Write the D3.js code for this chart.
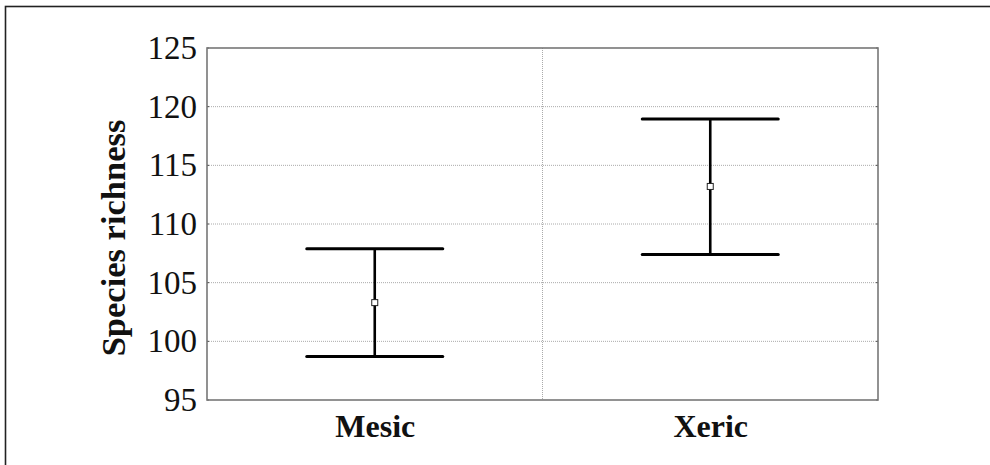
<!DOCTYPE html>
<html>
<head>
<meta charset="utf-8">
<script src="https://cdn.jsdelivr.net/npm/d3@7"></script>
<style>
  html, body { margin: 0; padding: 0; background: #fff; }
  svg { display: block; }
  text { font-family: 'Liberation Serif', 'Times New Roman', serif; fill: #111; }
</style>
</head>
<body>
<div id="chart"></div>
<script>
const categories = ['Mesic', 'Xeric']
const means      = [103.3, 113.2]
const upper      = [107.9, 118.95]
const lower      = [98.7, 107.4]
const yTicks     = [95, 100, 105, 110, 115, 120, 125]
const yLabel     = 'Species richness'

const WIDTH = 990, HEIGHT = 465
const MARGIN = { top: 48, right: 112, bottom: 65, left: 207 }
const W = WIDTH - MARGIN.left - MARGIN.right
const H = HEIGHT - MARGIN.top - MARGIN.bottom

const svg = d3.select('#chart').append('svg')
  .attr('width', WIDTH)
  .attr('height', HEIGHT)

// outer frame (right/bottom edges fall outside the picture)
svg.append('rect')
  .attr('x', 5.5).attr('y', 6.5)
  .attr('width', WIDTH + 20).attr('height', HEIGHT + 20)
  .attr('fill', 'none')
  .attr('stroke', '#222')
  .attr('stroke-width', 1.6)

const g = svg.append('g').attr('transform', `translate(${MARGIN.left},${MARGIN.top})`)

const x = d3.scalePoint().domain(categories).range([0, W]).padding(0.5)
const y = d3.scaleLinear().domain([95, 125]).range([H, 0])

// ── grid ─────────────────────────────────────────────────────
g.append('g').attr('class', 'grid')
  .selectAll('line').data(yTicks.slice(1, -1))
  .join('line')
  .attr('x1', 0).attr('x2', W)
  .attr('y1', d => y(d)).attr('y2', d => y(d))
  .attr('stroke', '#aaa')
  .attr('stroke-width', 1)
  .attr('stroke-dasharray', '1 1')

g.append('line')
  .attr('x1', W / 2).attr('x2', W / 2)
  .attr('y1', 0).attr('y2', H)
  .attr('stroke', '#aaa')
  .attr('stroke-width', 1)
  .attr('stroke-dasharray', '1 1')

// ── y axis ───────────────────────────────────────────────────
const yAxis = g.append('g')
  .call(d3.axisLeft(y).tickValues(yTicks).tickSize(0).tickPadding(10))
yAxis.select('.domain').remove()
yAxis.selectAll('text')
  .style('font-size', '33px')
  .style('font-family', "'Liberation Serif', 'Times New Roman', serif")
  .attr('fill', '#111')

// small inner ticks on both sides
g.append('g').selectAll('line').data(yTicks)
  .join('line')
  .attr('x1', 0).attr('x2', 2)
  .attr('y1', d => y(d)).attr('y2', d => y(d))
  .attr('stroke', '#444')
g.append('g').selectAll('line').data(yTicks)
  .join('line')
  .attr('x1', W - 2).attr('x2', W)
  .attr('y1', d => y(d)).attr('y2', d => y(d))
  .attr('stroke', '#444')

// ── x axis labels ────────────────────────────────────────────
const xAxis = g.append('g')
  .attr('transform', `translate(0,${H})`)
  .call(d3.axisBottom(x).tickSize(0).tickPadding(14))
xAxis.select('.domain').remove()
xAxis.selectAll('text')
  .style('font-size', '32px')
  .style('font-weight', 'bold')
  .style('font-family', "'Liberation Serif', 'Times New Roman', serif")
  .attr('fill', '#111')

// ── y label ──────────────────────────────────────────────────
svg.append('text')
  .attr('transform', `translate(125,${MARGIN.top + H / 2 + 14}) rotate(-90)`)
  .attr('text-anchor', 'middle')
  .style('font-size', '34.5px')
  .style('font-weight', 'bold')
  .text(yLabel)

// ── plot frame ───────────────────────────────────────────────
g.append('rect')
  .attr('x', 0).attr('y', 0)
  .attr('width', W).attr('height', H)
  .attr('fill', 'none')
  .attr('stroke', '#777')
  .attr('stroke-width', 1.6)

// ── error bars ───────────────────────────────────────────────
const capHalf = 68
const bars = g.append('g').selectAll('g').data(categories)
  .join('g')

bars.append('line')
  .attr('x1', d => x(d)).attr('x2', d => x(d))
  .attr('y1', (d, i) => y(upper[i])).attr('y2', (d, i) => y(lower[i]))
  .attr('stroke', '#000')
  .attr('stroke-width', 2.6)

bars.append('line')
  .attr('x1', d => x(d) - capHalf).attr('x2', d => x(d) + capHalf)
  .attr('y1', (d, i) => y(upper[i])).attr('y2', (d, i) => y(upper[i]))
  .attr('stroke', '#000')
  .attr('stroke-width', 3)
  .attr('stroke-linecap', 'round')

bars.append('line')
  .attr('x1', d => x(d) - capHalf).attr('x2', d => x(d) + capHalf)
  .attr('y1', (d, i) => y(lower[i])).attr('y2', (d, i) => y(lower[i]))
  .attr('stroke', '#000')
  .attr('stroke-width', 3)
  .attr('stroke-linecap', 'round')

bars.append('rect')
  .attr('x', d => x(d) - 3).attr('y', (d, i) => y(means[i]) - 3)
  .attr('width', 6).attr('height', 6)
  .attr('fill', '#fff')
  .attr('stroke', '#222')
  .attr('stroke-width', 1)
</script>
</body>
</html>
